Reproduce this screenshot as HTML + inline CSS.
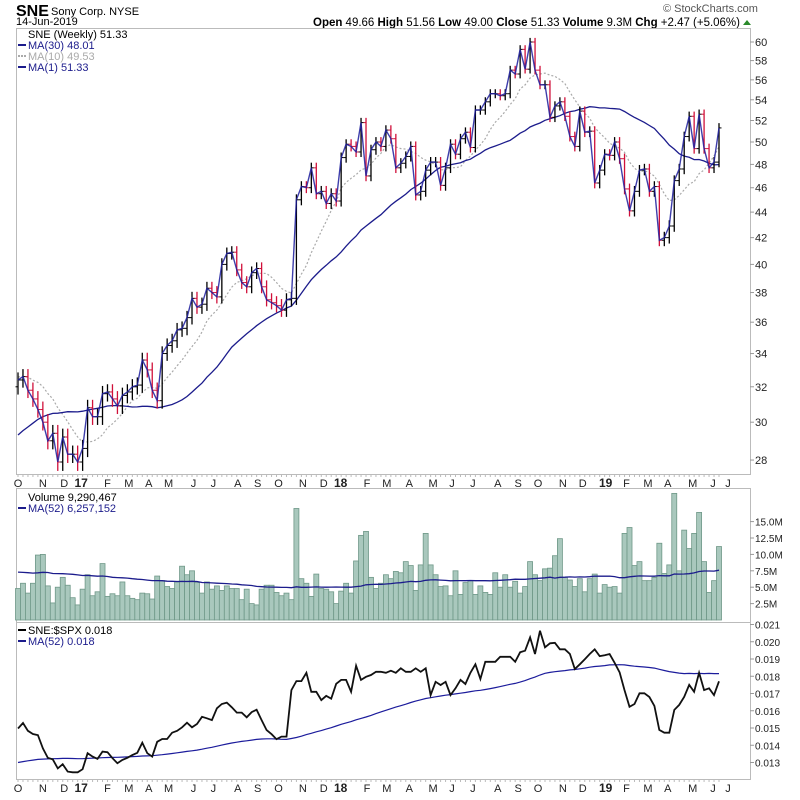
<!DOCTYPE html>
<html><head><meta charset="utf-8"><style>
body{margin:0;background:#fff;width:800px;height:795px;overflow:hidden}
svg text{font-family:"Liberation Sans",sans-serif}
</style></head><body>
<svg id="c" width="800" height="795" xmlns="http://www.w3.org/2000/svg">
<text x="16" y="16" font-size="16" font-weight="bold">SNE</text>
<text x="51" y="15" font-size="11">Sony Corp. NYSE</text>
<text x="16" y="25" font-size="11">14-Jun-2019</text>
<text x="663" y="12" font-size="11" fill="#555">© StockCharts.com</text>
<text x="313" y="26" font-size="11.5" textLength="427" lengthAdjust="spacing"><tspan font-weight="bold">Open</tspan> 49.66 <tspan font-weight="bold">High</tspan> 51.56 <tspan font-weight="bold">Low</tspan> 49.00 <tspan font-weight="bold">Close</tspan> 51.33 <tspan font-weight="bold">Volume</tspan> 9.3M <tspan font-weight="bold">Chg</tspan> +2.47 (+5.06%)</text>
<polygon points="743,25 751,25 747,20" fill="#2a8a2a"/>
<g id="g"></g>
</svg>
<script>
const closes=[32.4,32.6,31.8,31.3,30.7,30.0,29.0,29.4,27.9,29.2,28.3,28.3,27.9,28.6,30.8,30.3,30.3,31.6,31.7,31.3,30.9,31.5,31.7,32.0,32.1,33.6,33.0,31.8,31.2,34.0,34.5,34.8,35.5,35.6,36.3,37.6,37.0,37.2,38.3,38.0,37.7,40.0,40.8,40.9,39.6,38.7,38.4,39.4,39.7,38.4,37.5,37.3,37.1,
36.8,37.5,37.6,45.0,46.1,46.0,47.7,45.5,45.7,44.7,45.5,44.9,48.6,49.8,49.6,49.1,51.8,47.0,49.3,50.0,49.6,51.1,50.3,47.7,48.1,48.7,49.6,45.4,45.7,47.5,48.2,48.2,46.2,47.7,49.8,48.9,50.3,50.9,49.5,53.0,53.0,53.8,54.6,54.6,54.4,54.6,57.0,56.6,59.2,57.1,
60.0,57.0,55.5,55.5,52.3,53.4,53.8,52.4,50.5,49.6,52.9,50.9,51.0,46.4,47.5,48.9,48.8,50.0,48.5,45.9,44.1,45.7,47.5,47.6,45.7,46.1,41.8,42.0,42.9,46.6,47.6,50.5,52.4,49.4,52.6,49.4,47.7,48.2,51.3];
const pricePrior=[25.5,26,25,24.5,25.5,26,27,27.5,28,27,28.5,28,27.5,29,28.5,29,30,29.5,30.5,31,32,32.5,33,32,32.5,33,32.5,33,32.8];
const volumes=[4.8,5.6,4.1,5.6,9.9,10,5.2,2.6,5,6.5,5.3,3.4,2.3,4.7,6.9,3.7,4.3,8.6,3.6,4,3.7,5.8,3.7,3.3,3.1,4.1,4,3.2,6.7,6,5.1,4.8,5.8,8.2,6.9,7.5,5.7,4.1,5.8,4.7,5.2,4.5,5.2,4.8,4.8,3.1,4.7,2.5,2.3,4.7,5.3,5.3,4.2,3.7,4.1,3.1,17,6.3,5.6,3.6,7,4.8,4.7,4.3,2.5,4.4,5.6,4.1,9,12.9,13.5,6.5,4.8,5.6,6.9,6.3,7.4,
7.2,8.9,8.3,4.5,8.4,13.2,8.4,6.9,5.1,5.2,3.7,7.5,3.9,5.7,6,3.9,5.2,4.2,3.9,7.2,5,6.9,5,5.9,4.1,5.1,8.9,6.9,6,7.8,7.9,9.8,12.4,6.5,6.1,5.1,6.3,4.3,6.3,7,4.1,5.4,5,5.1,4.1,13.2,14.1,8.3,8.9,6,6,6.5,11.7,7.1,8.4,19.3,7.5,13.7,10.9,13.2,16.4,8.9,4.2,6,11.2];
const volPrior=[8,6.5,9,7,6,7.5,10,6,7,8,5.5,7,9.5,6,7,8,6.5,7.5,11,6,7,6.5,8,7,6,9,7.5,6.5,7,8.5,6,7,7.5,8,6,7,12,6.5,7,8,6,7,7.5,6.5,8,7,6,9,7,7.5,6.5];
const ratios=[.01497,.01529,.01484,.01465,.01459,.01382,.01327,.01318,.01266,.0129,.01247,.01243,.01243,.01261,.01354,.01334,.01321,.01363,.0136,.01325,.01296,.01315,.01327,.01343,.01356,.01415,.01354,.01334,.0142,.01436,.01436,.01473,.01484,.01504,.01531,.01504,.01523,.01565,.01556,.01546,.01614,.01639,.01647,.0162,.01589,.01589,.01562,.01592,.01606,.01546,.01488,.01464,.01435,.0145,.0145,
.0172,.01772,.01772,.0182,.0171,.0171,.01662,.01686,.0167,.01756,.01779,.01779,.0171,.01861,.01779,.01797,.01807,.01826,.01826,.0182,.01832,.0182,.01846,
.01826,.01826,.01846,.01826,.01846,.01691,.01768,.01749,.01768,.01691,.0173,.01779,.01755,.0182,.01869,.01784,.01884,.01884,.01884,.01913,.01913,.01913,.01884,.01939,.01948,.02025,.01929,.02064,.01968,.01991,.01994,.01956,.01956,.01929,.01842,.01869,.01899,.01929,.01956,.01917,.01922,.01929,.01878,.01823,.0172,.01623,.01639,.01701,.01701,.0168,.01628,.01489,.01473,.01473,.01605,.01634,.01681,.0175,.0171,.0182,.0172,.0173,.01691,.01771];
const ratioPrior=[.0125,.0127,.0124,.0126,.0128,.0127,.0125,.0123,.0124,.0126,.0127,.0129,.0128,.0126,.0125,.0127,.0129,.013,.0128,.0127,.0126,.0125,.0127,.0128,.013,.0131,.0129,.0128,.0127,.0126,.0128,.0129,.013,.0131,.0132,.013,.0129,.0128,.0127,.0129,.013,.0131,.0133,.0134,.0135,.0137,.0139,.014,.0142,.0143,.0146];
const priceTicks=[28,30,32,34,36,38,40,42,44,46,48,50,52,54,56,58,60];
const volTicks=[2.5,5,7.5,10,12.5,15];
const volTickLabels=["2.5M","5.0M","7.5M","10.0M","12.5M","15.0M"];
const ratioTicks=[.013,.014,.015,.016,.017,.018,.019,.020,.021];
const monthLabels=["O","N","D","17","F","M","A","M","J","J","A","S","O","N","D","18","F","M","A","M","J","J","A","S","O","N","D","19","F","M","A","M","J","J"];
const monthWeeks=[0,5,9.3,12.7,18,22.3,26.3,30.3,35.3,39.3,44.2,48.2,52.4,57.3,61.5,64.9,70.2,74.2,78.7,83.5,87.3,91.5,96.5,100.6,104.6,109.6,113.6,118.2,122.4,126.7,130.7,135.7,139.8,142.8];

const NS="http://www.w3.org/2000/svg",G=document.getElementById('g');
function mk(t,a,p){const e=document.createElementNS(NS,t);for(const k in a)e.setAttribute(k,a[k]);(p||G).appendChild(e);return e;}
const X0=18,X1=719,n=closes.length;
const xw=i=>X0+i*(X1-X0)/(n-1);
const yP=p=>42+(Math.log(60)-Math.log(p))*548.5;
const yV=v=>620-v*6.56;
const yR=r=>624.5+(0.021-r)*17250;
function ma(arr,prior,len){const all=prior.concat(arr),o=[];for(let i=0;i<arr.length;i++){const j=i+prior.length;let s=0,c=0;for(let k=Math.max(0,j-len+1);k<=j;k++){s+=all[k];c++;}o.push(s/c);}return o;}
const pathOf=(arr,fy)=>arr.map((v,i)=>(i?'L':'M')+xw(i).toFixed(1)+','+fy(v).toFixed(1)).join('');

let e;
e=mk('rect',{x:16.5,y:28.5,width:734,height:446,fill:'none',stroke:'#bbb'});

e=mk('rect',{x:16.5,y:488.5,width:734,height:134,fill:'none',stroke:'#bbb'});

e=mk('rect',{x:16.5,y:622.5,width:734,height:157,fill:'none',stroke:'#bbb'});


[483,788].forEach(yy=>monthLabels.forEach((m,i)=>{const t=mk('text',{x:xw(monthWeeks[i]),y:yy+4,'font-size':(m.length>1?12:11),'font-weight':(m.length>1?'bold':'normal'),'text-anchor':'middle',fill:'#222'});t.textContent=m;
}));
[482,786].forEach(yy=>{for(let i=0;i<n;i++){mk('line',{x1:xw(i),x2:xw(i),y1:(yy<600?475:780),y2:(yy<600?477:782),stroke:'#bbb'});}});

priceTicks.forEach(p=>{const y=yP(p);mk('line',{x1:750,x2:754,y1:y,y2:y,stroke:'#999'});
const t=mk('text',{x:755,y:y+4,'font-size':11,fill:'#222'});t.textContent=p;
});
volTicks.forEach((v,i)=>{const y=yV(v);mk('line',{x1:750,x2:754,y1:y,y2:y,stroke:'#999'});
const t=mk('text',{x:755,y:y+4,'font-size':10,fill:'#222'});t.textContent=volTickLabels[i];
});
ratioTicks.forEach(r=>{const y=yR(r);mk('line',{x1:750,x2:754,y1:y,y2:y,stroke:'#999'});
const t=mk('text',{x:755,y:y+4,'font-size':10,fill:'#222'});t.textContent=r.toFixed(3);
});

const ma30=ma(closes,pricePrior,30),ma10=ma(closes,pricePrior,10);
e=mk('path',{d:pathOf(ma10,yP),fill:'none',stroke:'#aaa','stroke-width':1.2,'stroke-dasharray':'2,2'});

e=mk('path',{d:pathOf(ma30,yP),fill:'none',stroke:'#1c1c8c','stroke-width':1.3});

for(let i=0;i<n;i++){const c=closes[i],o=i?closes[i-1]:32.0;const hi=Math.max(o,c)+0.45,lo=Math.min(o,c)-0.45;
const col=(i&&c<o)?'#d0103a':'#000';const x=xw(i);
const b=mk('g',{});


mk('line',{x1:x,x2:x,y1:yP(hi),y2:yP(lo),stroke:col,'stroke-width':1.3},b);
mk('line',{x1:x-2.5,x2:x,y1:yP(o),y2:yP(o),stroke:col,'stroke-width':1},b);
mk('line',{x1:x,x2:x+2.5,y1:yP(c),y2:yP(c),stroke:col,'stroke-width':1},b);}
e=mk('path',{d:pathOf(closes,yP),fill:'none',stroke:'#1c1c9c','stroke-width':1.4,'stroke-opacity':0.85});


volumes.forEach((v,i)=>{const b=mk('rect',{x:xw(i)-2.5,y:yV(v),width:5,height:620-yV(v),fill:'#a9c8bd',stroke:'#6f9888','stroke-width':0.8});
});
const vma=ma(volumes,volPrior,52);
e=mk('path',{d:pathOf(vma,yV),fill:'none',stroke:'#1c1c8c','stroke-width':1.3});


const rma=ma(ratios,ratioPrior,52);
e=mk('path',{d:pathOf(rma,yR),fill:'none',stroke:'#1c1c9c','stroke-width':1.2});

e=mk('path',{d:pathOf(ratios,yR),fill:'none',stroke:'#111','stroke-width':1.8});


function leg(x,y,txt,col,name,mark,dash){const g=mk('g',{});


if(mark)mk('line',{x1:x,x2:x+8,y1:y-4,y2:y-4,stroke:col,'stroke-width':2,'stroke-dasharray':dash||''},g);
const t=mk('text',{x:x+10,y:y,'font-size':11,fill:col},g);t.textContent=txt;}
e=mk('rect',{x:17,y:29,width:100,height:47,fill:'#fff'});
leg(18,38,'SNE (Weekly) 51.33','#000','legend-price',false);
leg(18,49,'MA(30) 48.01','#1c1c8c','legend-ma30',true);
leg(18,60,'MA(10) 49.53','#aaa','legend-ma10',true,'2,1');
leg(18,71,'MA(1) 51.33','#1c1c8c','legend-ma1',true);
leg(18,501,'Volume 9,290,467','#000','legend-volume',false);
leg(18,512,'MA(52) 6,257,152','#1c1c8c','legend-volume-ma',true);
leg(18,634,'SNE:$SPX 0.018','#000','legend-ratio',true);
leg(18,645,'MA(52) 0.018','#1c1c8c','legend-ratio-ma',true);
</script>
</body></html>
